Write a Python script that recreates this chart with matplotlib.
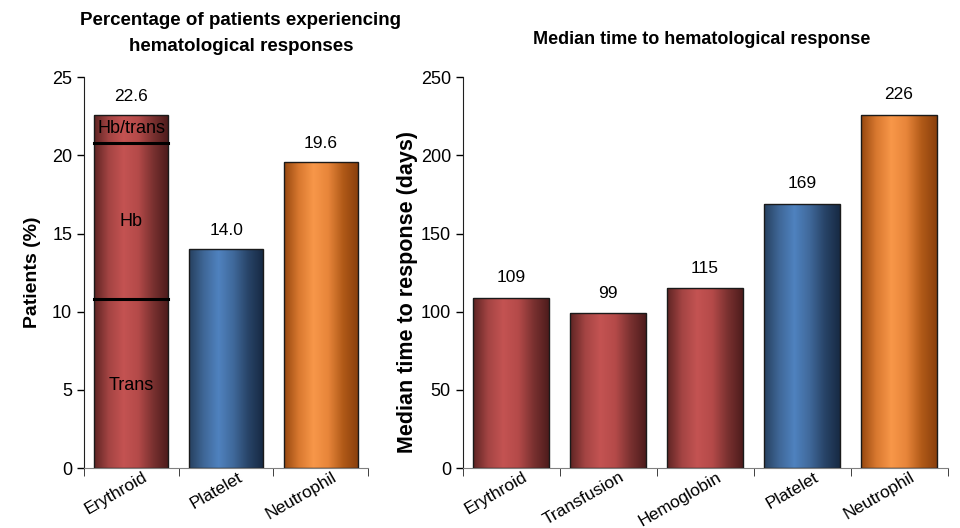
import numpy as np
import matplotlib.pyplot as plt
from matplotlib.colors import LinearSegmentedColormap
import matplotlib.transforms as mtrans

plt.rcParams['font.family'] = ['Liberation Sans Narrow', 'Liberation Sans', 'DejaVu Sans']

# left panel data
cats1 = ['Erythroid', 'Platelet', 'Neutrophil']
pct = [22.6, 14.0, 19.6]
pct_lbl = ['22.6', '14.0', '19.6']
ery_splits = [10.8, 20.8]   # Trans | Hb | Hb/trans boundaries
ery_parts = ['Trans', 'Hb', 'Hb/trans']
ery_part_y = [5.3, 15.8, 21.7]

# right panel data
cats2 = ['Erythroid', 'Transfusion', 'Hemoglobin', 'Platelet', 'Neutrophil']
days = [109, 99, 115, 169, 226]

red = ['#5e2423', '#a44443', '#c45352', '#b44a49', '#7a3130', '#4e1c1c']
blue = ['#26405f', '#3f6797', '#4f82bf', '#40699b', '#284468', '#172a44']
orange = ['#96470f', '#d8782f', '#f89749', '#e7853a', '#b15a18', '#8a3f0c']
cm = {c: LinearSegmentedColormap.from_list(c, v) for c, v in
      [('r', red), ('b', blue), ('o', orange)]}
cols1 = ['r', 'b', 'o']
cols2 = ['r', 'r', 'r', 'b', 'o']

grad = np.linspace(0, 1, 256).reshape(1, -1)


def grad_bars(ax, vals, cols, width=0.78):
    bars = ax.bar(range(len(vals)), vals, width, facecolor='none',
                  edgecolor='#1a1a1a', linewidth=1.0, zorder=3)
    for b, c in zip(bars, cols):
        x0, y0 = b.get_x(), b.get_y()
        im = ax.imshow(grad, cmap=cm[c], aspect='auto', zorder=2,
                       extent=(x0, x0 + b.get_width(), y0, y0 + b.get_height()))
        im.set_clip_path(b)
    return bars


def style(ax, cats, ymax, ystep):
    n = len(cats)
    ax.set_xlim(-0.5, n - 0.5)
    ax.set_ylim(0, ymax)
    ax.set_yticks(np.arange(0, ymax + 1, ystep))
    ax.spines['top'].set_visible(False)
    ax.spines['right'].set_visible(False)
    ax.spines['bottom'].set_color('#808080')
    ax.spines['left'].set_color('#202020')
    ax.tick_params(axis='y', direction='out', length=5, labelsize=13, width=1)
    ax.set_xticks(np.arange(n))
    ax.set_xticks(np.arange(n + 1) - 0.5, minor=True)
    ax.tick_params(axis='x', which='major', length=0, labelsize=12.5, pad=1)
    ax.tick_params(axis='x', which='minor', length=6, direction='out', color='#202020')
    ax.set_xticklabels(cats, rotation=30, ha='right', rotation_mode='anchor')
    off = mtrans.ScaledTranslation(8 / 72, 0, ax.figure.dpi_scale_trans)
    for t in ax.get_xticklabels():
        t.set_transform(t.get_transform() + off)


fig = plt.figure(figsize=(9.6, 5.28), dpi=100)
ax1 = fig.add_axes([0.0875, 0.1136, 0.296, 0.740])
ax2 = fig.add_axes([0.482, 0.1136, 0.505, 0.740])

grad_bars(ax1, pct, cols1)
for s in ery_splits:
    ax1.plot([-0.39, 0.39], [s, s], color='black', lw=2.2, zorder=4)
for t, y in zip(ery_parts, ery_part_y):
    ax1.text(0, y, t, ha='center', va='center', fontsize=13, zorder=5)
for i, (v, l) in enumerate(zip(pct, pct_lbl)):
    ax1.text(i, v + 0.7, l, ha='center', va='bottom', fontsize=12.5)
style(ax1, cats1, 25, 5)
ax1.set_ylabel('Patients (%)', fontsize=14, fontweight='bold', labelpad=8)
fig.text(0.251, 0.978, 'Percentage of patients experiencing\nhematological responses',
         ha='center', va='top', fontsize=13.5, fontweight='bold', linespacing=1.75)

grad_bars(ax2, days, cols2)
for i, v in enumerate(days):
    ax2.text(i, v + 8, str(v), ha='center', va='bottom', fontsize=12.5)
style(ax2, cats2, 250, 50)
ax2.set_ylabel('Median time to response (days)', fontsize=15.5, fontweight='bold')
ax2.yaxis.set_label_coords(-0.092, 0.45)
fig.text(0.731, 0.925, 'Median time to hematological response', ha='center',
         va='center', fontsize=13, fontweight='bold')

fig.savefig('out.png', dpi=100)
